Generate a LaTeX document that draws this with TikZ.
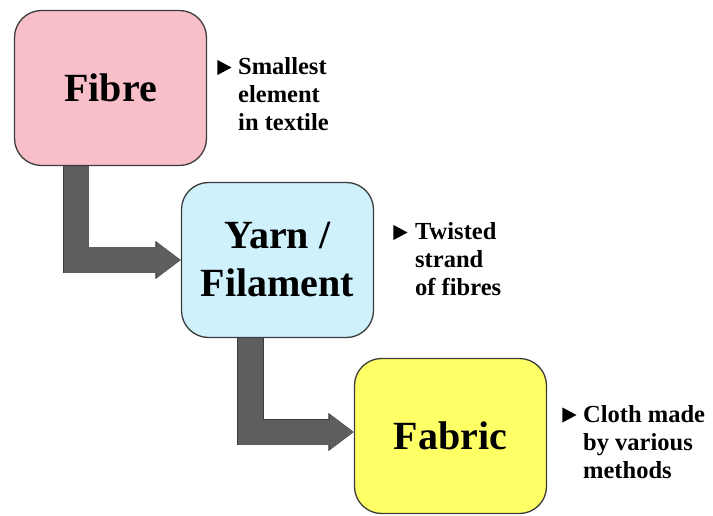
\documentclass[tikz,border=0pt]{standalone}
\usepackage{fontspec}
\setmainfont{Liberation Serif}
\usetikzlibrary{arrows.meta,positioning,shapes.geometric,backgrounds}

\definecolor{fibrepink}{RGB}{248,191,201}
\definecolor{yarnblue}{RGB}{206,241,252}
\definecolor{fabricyellow}{RGB}{255,255,102}
\definecolor{flowgray}{RGB}{94,94,94}
\definecolor{edgegray}{RGB}{60,60,60}

\begin{document}
\begin{tikzpicture}
    [
    x=1pt, y=-1pt,
    stage/.style={draw=edgegray, line width=1.3pt, rounded corners=27pt,
      minimum width=192pt, minimum height=155pt, align=center,
      font=\fontsize{40}{48}\selectfont\bfseries},
    note/.style={anchor=base west, inner sep=0pt,
      font=\fontsize{24.5}{28}\selectfont\bfseries},
    tipmark/.style={isosceles triangle, isosceles triangle stretches,
      fill=black, inner sep=0pt, minimum width=15pt, minimum height=14pt,
      anchor=east},
    flow/.style={draw=flowgray, line width=25pt,
      -{Triangle[length=24pt, width=34pt]},
      preaction={draw=edgegray, line width=26.6pt,
        -{Triangle[length=25.5pt, width=36.5pt]}}},
    ]
    \useasboundingbox (0,0) rectangle (713,516);

    % the three stages
    \node[stage, fill=fibrepink] (fibre) at (110.5,88) {Fibre};
    \node[stage, fill=yarnblue] (yarn) at (277.5,260) {Yarn /\\Filament};
    \node[stage, fill=fabricyellow] (fabric) at (450.5,436) {Fabric};

    % notes beside each stage
    \node[note] (fibrenote) at (238,75)
      {\begin{tabular}[t]{@{}l@{}}Smallest\\element\\in textile\end{tabular}};
    \node[note] (yarnnote) at (415,240)
      {\begin{tabular}[t]{@{}l@{}}Twisted\\strand\\of fibres\end{tabular}};
    \node[note] (fabricnote) at (583,422)
      {\begin{tabular}[t]{@{}l@{}}Cloth made\\by various\\methods\end{tabular}};
    \node[tipmark] (fibretip) at ([xshift=-6pt,yshift=7.5pt]fibrenote.base west) {};
    \node[tipmark] (yarntip) at ([xshift=-7pt,yshift=7.5pt]yarnnote.base west) {};
    \node[tipmark] (fabrictip) at ([xshift=-6pt,yshift=7pt]fabricnote.base west) {};

    % elbow arrows between stages
    \begin{scope}[on background layer]
      \draw[flow] ([xshift=-34.5pt]fibre.south) |- (yarn.west);
      \draw[flow] ([xshift=-27pt]yarn.south) |- ([yshift=4pt]fabric.west);
    \end{scope}
  \end{tikzpicture}
\end{document}
